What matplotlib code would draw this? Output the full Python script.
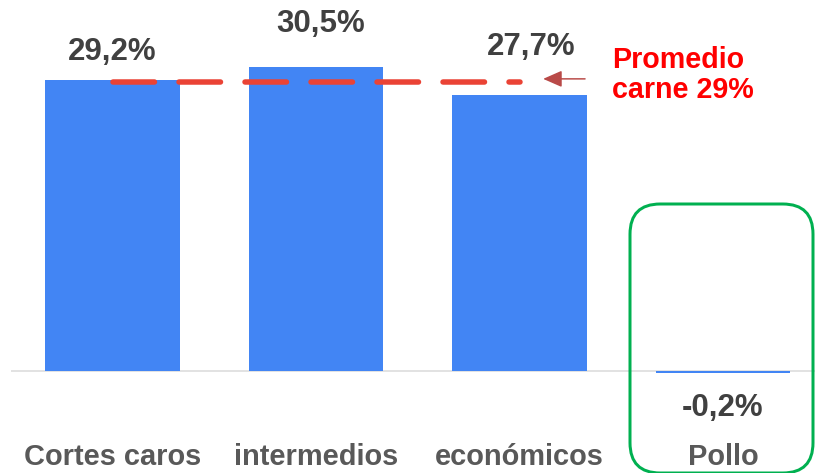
import matplotlib.pyplot as plt
from matplotlib.patches import FancyBboxPatch

# data
categorias = ['Cortes caros', 'intermedios', 'económicos', 'Pollo']
variacion = [29.2, 30.5, 27.7, -0.2]
etiquetas = ['29,2%', '30,5%', '27,7%', '-0,2%']
promedio_carne = 29.0
texto_promedio = 'Promedio\ncarne 29%'

plt.rcParams['font.family'] = ['Liberation Sans', 'DejaVu Sans']
plt.rcParams['lines.scale_dashes'] = False

# dpi 72 -> 1 pt == 1 px
fig = plt.figure(figsize=(815 / 72, 473 / 72), dpi=72)
ax = fig.add_axes([11 / 815, 0, 804 / 815, 1])
ax.set_xlim(-0.4988, 3.452)
ax.set_ylim(-10.23, 37.21)
ax.axis('off')

azul = '#4285f4'
ax.axhline(0, color='#d9d9d9', lw=1.5, zorder=1)
ax.bar(range(len(categorias)), variacion, width=0.663, color=azul, zorder=2)

# value labels (offsets in px, manually nudged like the original)
offs = [(0, 28), (5, 43), (12, 48), (0, -35)]
for i, (v, t) in enumerate(zip(variacion, etiquetas)):
    ax.annotate(t, xy=(i, v), xytext=offs[i], textcoords='offset points',
                ha='center', va='center', fontsize=31.3, fontweight='bold',
                color='#404040', zorder=5)

for i, c in enumerate(categorias):
    ax.annotate(c, xy=(i, 0), xytext=(0, -86), textcoords='offset points',
                ha='center', va='center', fontsize=29, fontweight='bold',
                color='#595959')

# average line
ax.plot([0, 2], [promedio_carne, promedio_carne], color='#ea4335', lw=5.5,
        dashes=(41.5, 24.5), dash_capstyle='round', zorder=4)

ax.annotate('', xy=(2.116, promedio_carne + 0.3), xytext=(2.322, promedio_carne + 0.3),
            arrowprops=dict(arrowstyle='-|>,head_length=0.8,head_width=0.35',
                            mutation_scale=20, color='#b94a48', lw=1.5,
                            shrinkA=0, shrinkB=0))

ax.annotate(texto_promedio, xy=(2.455, promedio_carne), xytext=(0, 7),
            textcoords='offset points', ha='left', va='center',
            fontsize=28.6, fontweight='bold', color='#ff0000', linespacing=1.08)

# green highlight box around Pollo (pixel coords -> inches)
caja = FancyBboxPatch((630 / 72, 0), 183 / 72, 269 / 72,
                      boxstyle='round,pad=0,rounding_size=0.42',
                      transform=fig.dpi_scale_trans, fill=False,
                      edgecolor='#00b050', lw=3, zorder=6, clip_on=False)
fig.patches.append(caja)

fig.savefig('out.png', dpi=72, facecolor='white')
